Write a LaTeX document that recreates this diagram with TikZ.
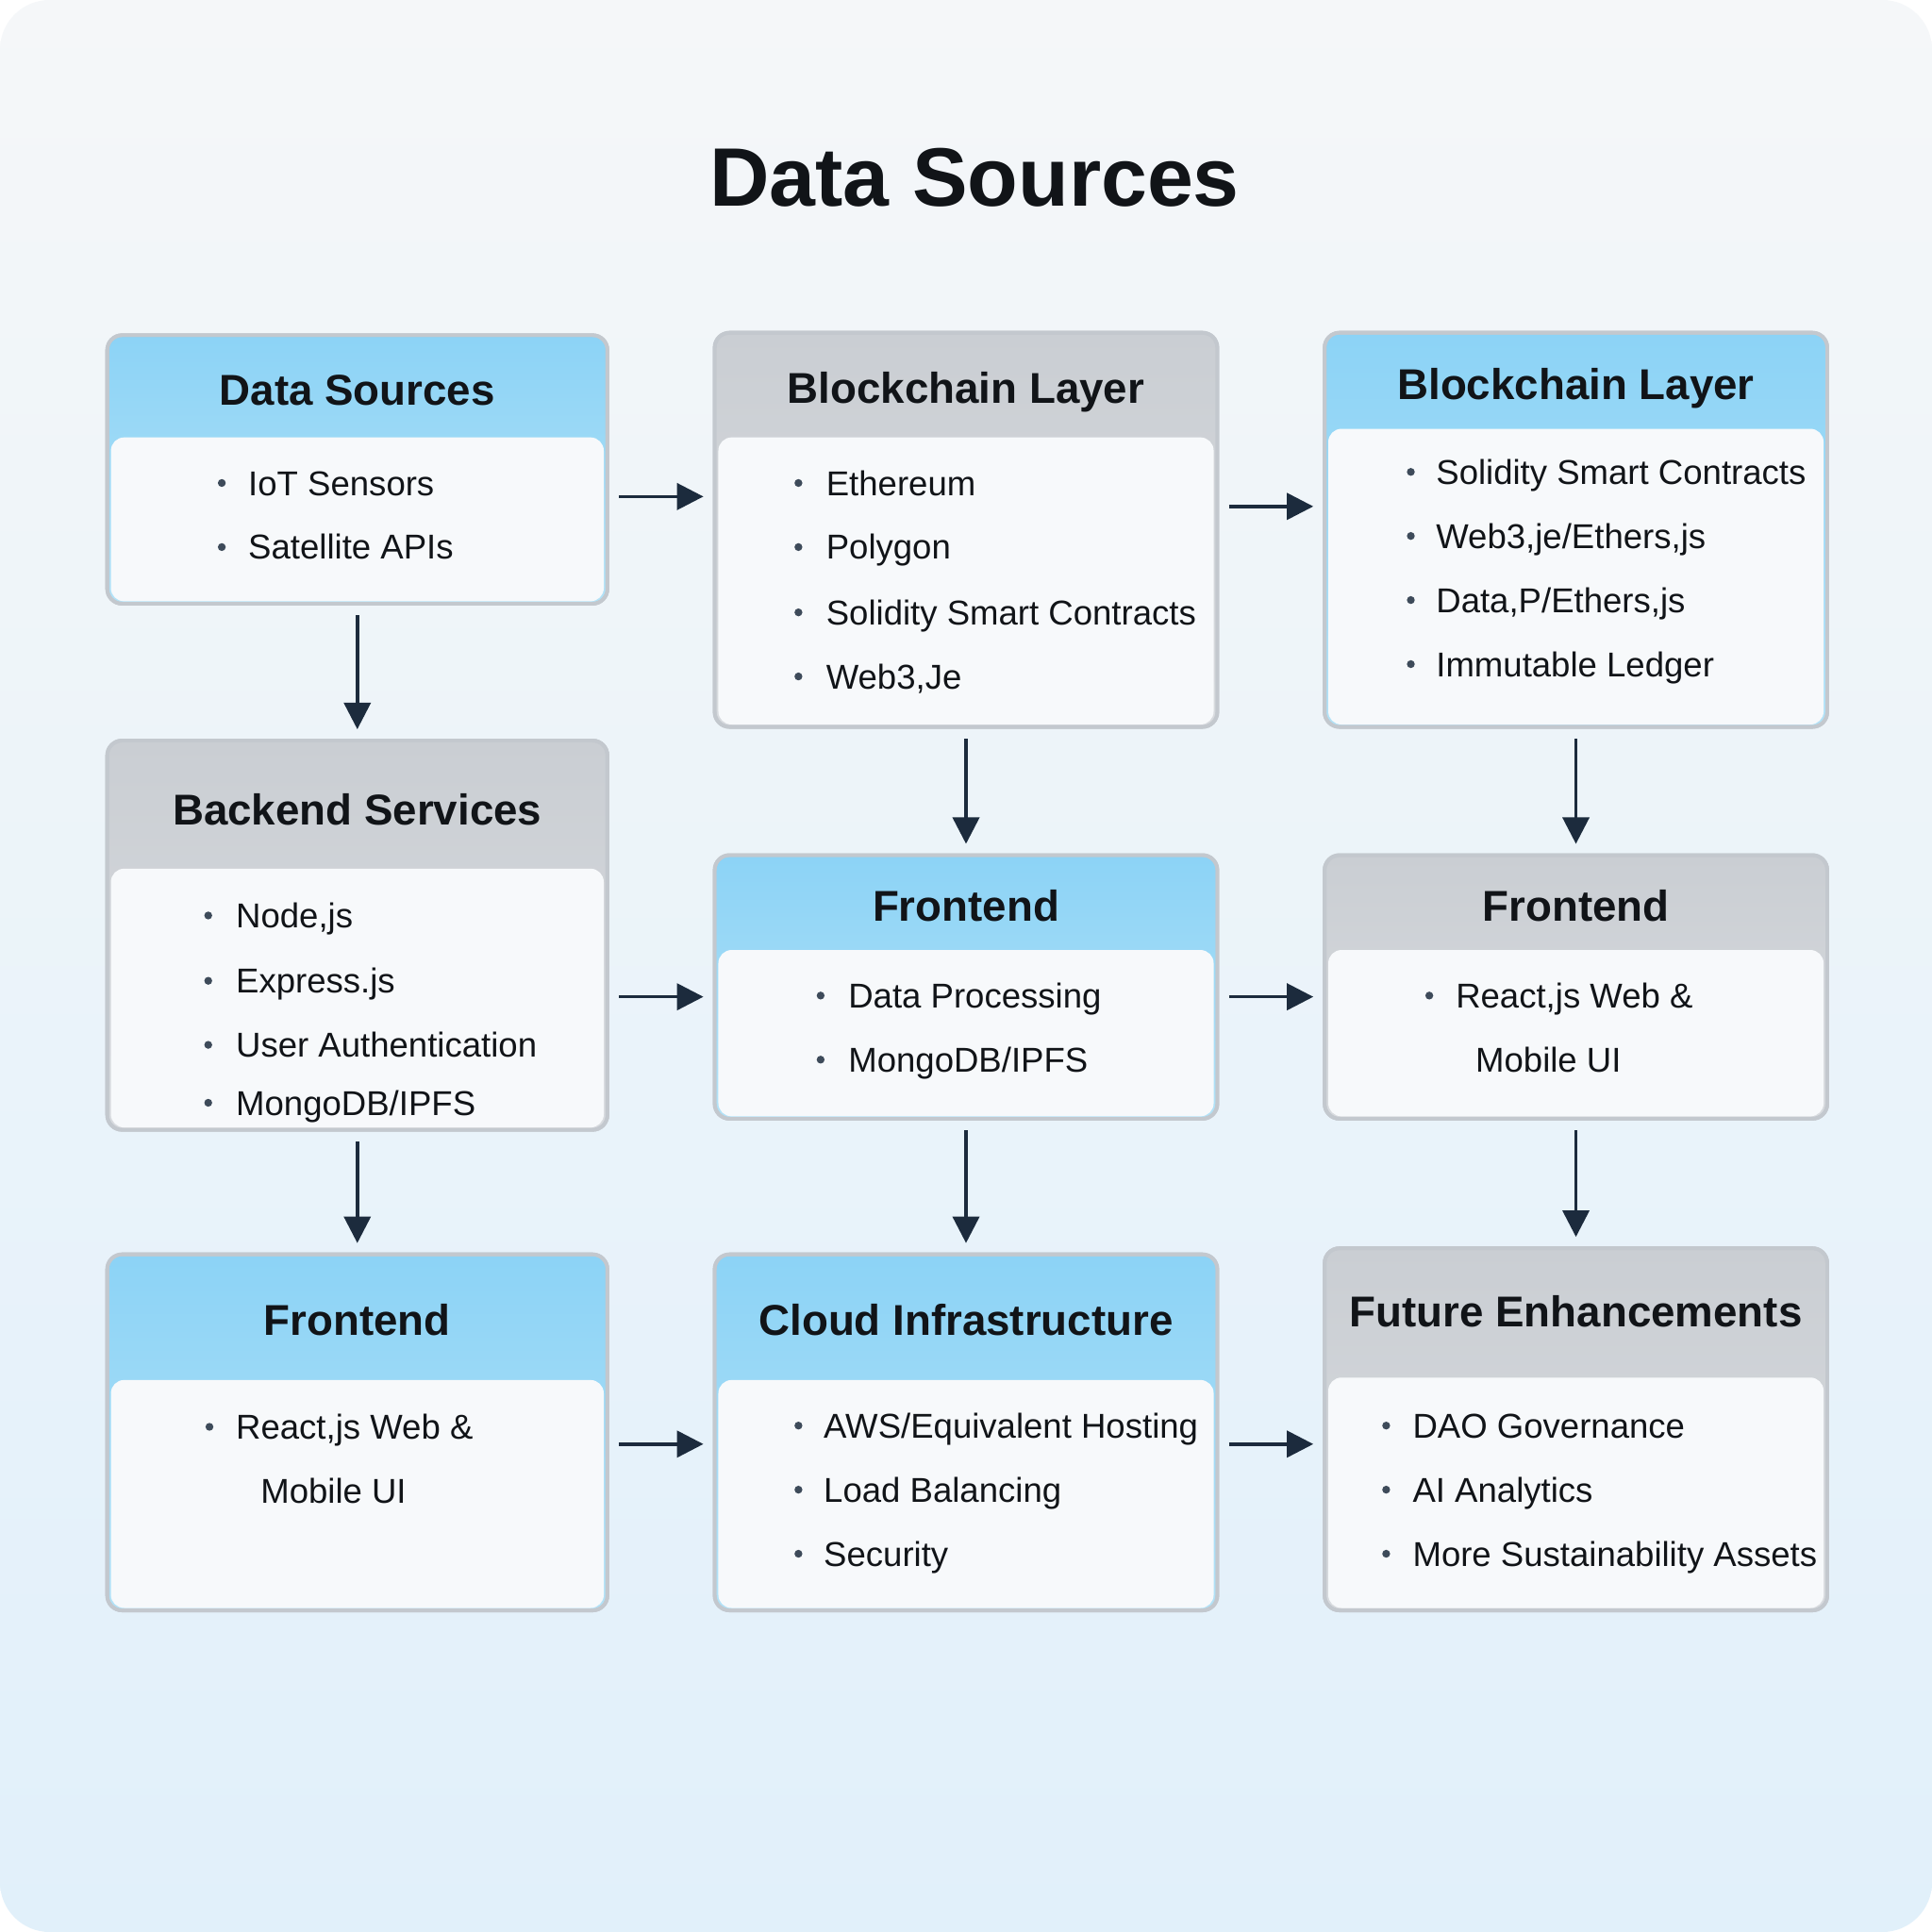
\documentclass[tikz,border=0pt]{standalone}
\usepackage{fontspec}
\setmainfont{Liberation Sans}
\usetikzlibrary{arrows.meta,fit,calc}
\definecolor{bgtop}{HTML}{F5F7F9}
\definecolor{bgbot}{HTML}{E1F0FA}
\definecolor{bluetop}{HTML}{8CD3F6}
\definecolor{bluebot}{HTML}{B3E2F7}
\definecolor{graytop}{HTML}{CACED3}
\definecolor{graybot}{HTML}{D8DBDF}
\definecolor{framegray}{HTML}{C3C8CE}
\definecolor{bodywhite}{HTML}{F7F9FB}
\definecolor{navy}{HTML}{1C2B3D}
\definecolor{inkblack}{HTML}{111418}
\tikzset{
  boxframe/.style={inner sep=0pt, draw=framegray, line width=1.1pt, rounded corners=4.5pt},
  bluehead/.style={top color=bluetop, bottom color=bluebot},
  grayhead/.style={top color=graytop, bottom color=graybot},
  headtext/.style={anchor=base, font=\bfseries\fontsize{13}{15}\selectfont, text=inkblack, inner sep=0pt},
  bultext/.style={anchor=base west, font=\fontsize{10.4}{12}\selectfont, text=inkblack, inner sep=0pt},
  arr/.style={draw=navy, line width=1pt, -{Triangle[length=8pt,width=8pt]}, shorten <=1.05mm, shorten >=1mm},
}
\newcommand\mybox[9]{%
  \node[boxframe, #7, fit={(#2,#3) (#4,#5)}] (#1) {};
  \fill[bodywhite, rounded corners=4pt] ({#2+3},#6) rectangle ({#4-3},{#5-2});
  \draw[framegray, line width=1.1pt, rounded corners=4.5pt] (#2,#3) rectangle (#4,#5);
  \node[headtext] (#1t) at ({(#2+#4)/2},{#9+12.5}) {#8};
}
\newcommand\bul[5]{%
  \fill[navy!85] (#2,#4) circle (3.2);
  \node[bultext] (#1) at (#3,{#4+10}) {#5};
}
\newcommand\cont[4]{%
  \node[bultext] (#1) at (#2,{#3+10}) {#4};
}
\begin{document}
\begin{tikzpicture}[x=0.1306mm, y=-0.1306mm]
\useasboundingbox (0,0) rectangle (1568,1568);
\fill[white] (0,0) rectangle (1568,1568);
\shade[top color=bgtop, bottom color=bgbot, rounded corners=15pt] (0,0) rectangle (1568,1568);
\node[anchor=base, font=\bfseries\fontsize{25}{30}\selectfont, text=inkblack, inner sep=0pt] (title) at (791,167) {Data Sources};

\mybox{b1}{87}{272}{493}{490}{355}{bluehead}{Data Sources}{316}
\mybox{b2}{580}{270}{988}{590}{355}{grayhead}{Blockchain Layer}{315}
\mybox{b3}{1075}{270}{1483}{590}{348}{bluehead}{Blockchain Layer}{312}
\mybox{b4}{87}{601}{493}{917}{705}{grayhead}{Backend Services}{657}
\mybox{b5}{580}{694}{988}{908}{771}{bluehead}{Frontend}{735}
\mybox{b6}{1075}{694}{1483}{908}{771}{grayhead}{Frontend}{735}
\mybox{b7}{87}{1018}{493}{1307}{1120}{bluehead}{Frontend}{1071}
\mybox{b8}{580}{1018}{988}{1307}{1120}{bluehead}{Cloud Infrastructure}{1071}
\mybox{b9}{1075}{1013}{1483}{1307}{1118}{grayhead}{Future Enhancements}{1064}

% bullets
\bul{t11}{180}{201}{392}{IoT Sensors}
\bul{t12}{180}{201}{444}{Satellite APIs}
\bul{t21}{648}{670}{392}{Ethereum}
\bul{t22}{648}{670}{444}{Polygon}
\bul{t23}{648}{670}{497}{Solidity Smart Contracts}
\bul{t24}{648}{670}{549}{Web3,Je}
\bul{t31}{1145}{1165}{383}{Solidity Smart Contracts}
\bul{t32}{1145}{1165}{435}{Web3,je/Ethers,js}
\bul{t33}{1145}{1165}{487}{Data,P/Ethers,js}
\bul{t34}{1145}{1165}{539}{Immutable Ledger}
\bul{t41}{169}{191}{743}{Node,js}
\bul{t42}{169}{191}{796}{Express.js}
\bul{t43}{169}{191}{848}{User Authentication}
\bul{t44}{169}{191}{895}{MongoDB/IPFS}
\bul{t51}{666}{688}{808}{Data Processing}
\bul{t52}{666}{688}{860}{MongoDB/IPFS}
\bul{t61}{1160}{1181}{808}{React,js Web \&}
\cont{t62}{1197}{860}{Mobile UI}
\bul{t71}{170}{191}{1158}{React,js Web \&}
\cont{t72}{211}{1210}{Mobile UI}
\bul{t81}{648}{668}{1157}{AWS/Equivalent Hosting}
\bul{t82}{648}{668}{1209}{Load Balancing}
\bul{t83}{648}{668}{1261}{Security}
\bul{t91}{1125}{1146}{1157}{DAO Governance}
\bul{t92}{1125}{1146}{1209}{AI Analytics}
\bul{t93}{1125}{1146}{1261}{More Sustainability Assets}

% horizontal connectors
\draw[arr] ($(b1.east)+(0,22)$) -- ($(b2.west)+(0,-27)$);
\draw[arr] ($(b2.east)+(0,-19)$) -- ($(b3.west)+(0,-19)$);
\draw[arr] ($(b4.east)+(0,50)$) -- ($(b5.west)+(0,8)$);
\draw[arr] ($(b5.east)+(0,8)$) -- ($(b6.west)+(0,8)$);
\draw[arr] ($(b7.east)+(0,9.5)$) -- ($(b8.west)+(0,9.5)$);
\draw[arr] ($(b8.east)+(0,9.5)$) -- ($(b9.west)+(0,12)$);
% vertical connectors
\draw[arr] (b1.south) -- (b4.north);
\draw[arr] (b2.south) -- (b5.north);
\draw[arr] (b3.south) -- (b6.north);
\draw[arr] (b4.south) -- (b7.north);
\draw[arr] (b5.south) -- (b8.north);
\draw[arr] (b6.south) -- (b9.north);
\end{tikzpicture}
\end{document}
